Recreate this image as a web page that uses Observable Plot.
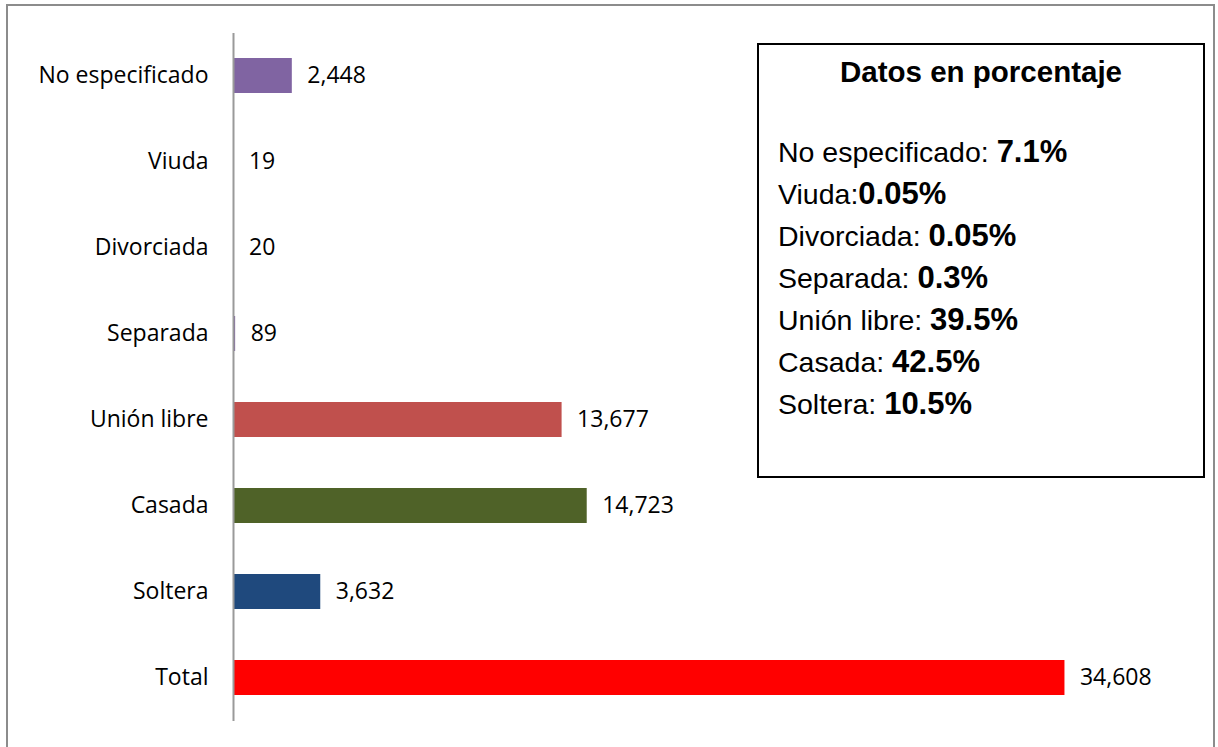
<!DOCTYPE html>
<html>
<head>
<meta charset="utf-8">
<script src="https://cdn.jsdelivr.net/npm/d3@7"></script>
<script src="https://cdn.jsdelivr.net/npm/@observablehq/plot@0.6"></script>
<style>
  html, body { margin: 0; padding: 0; background: #fff; }
  #wrap { position: relative; width: 1218px; height: 747px; overflow: hidden; }
  #frame { position: absolute; left: 6px; top: 4px; width: 1209px; height: 760px;
           border: 2px solid #8c8c8c; box-sizing: border-box; }
  #legend { position: absolute; left: 757px; top: 43px; width: 448px; height: 435px;
            border: 2px solid #000; box-sizing: border-box; background: #fff; }
  #legend svg { position: absolute; left: 0; top: 0; }
  #chart { position: absolute; left: 0; top: 0; }
</style>
</head>
<body>
<div id="wrap">
  <div id="frame"></div>
  <div id="chart"></div>
  <div id="legend"></div>
</div>
<script>
const categories = ["No especificado", "Viuda", "Divorciada", "Separada", "Unión libre", "Casada", "Soltera", "Total"];
const values = [2448, 19, 20, 89, 13677, 14723, 3632, 34608];
const barColors = ["#8064A2", "#8064A2", "#8064A2", "#8064A2", "#C0504D", "#4F6228", "#1F497D", "#FF0000"];
const legendTitle = "Datos en porcentaje";
const legendLabels = ["No especificado: ", "Viuda:", "Divorciada: ", "Separada: ", "Unión libre: ", "Casada: ", "Soltera: "];
const legendValues = ["7.1%", "0.05%", "0.05%", "0.3%", "39.5%", "42.5%", "10.5%"];

const data = categories.map((c, i) => ({category: c, value: values[i], color: barColors[i]}));
const fmt = d3.format(",");

const chart = Plot.plot({
  width: 1218,
  height: 747,
  marginLeft: 233,
  marginRight: 24,
  marginTop: 33,
  marginBottom: 26,
  style: {fontFamily: "'Open Sans', 'Noto Sans', sans-serif", fontSize: "23px", color: "#000", background: "transparent"},
  x: {domain: [0, 40000], axis: null},
  y: {domain: categories, paddingInner: 0.59, paddingOuter: 0.295, label: null, axis: null},
  marks: [
    Plot.barX(data, {x: "value", y: "category", fill: "color"}),
    Plot.ruleX([0], {stroke: "#9a9a9a", strokeWidth: 2}),
    Plot.text(data, {x: "value", y: "category", text: d => fmt(d.value), textAnchor: "start", dx: 15, fill: "#000", fontSize: 23}),
    Plot.axisY({tickSize: 0, tickPadding: 25, fontSize: 23, label: null, fill: "#000"})
  ]
});
document.getElementById("chart").appendChild(chart);

// Legend box (text block)
const legend = d3.select("#legend");
const svg = legend.append("svg").attr("width", 444).attr("height", 431)
  .style("font-family", "'Liberation Sans', Arial, sans-serif").attr("fill", "#000");
// box inner origin: (759, 45)
svg.append("text").attr("x", 222).attr("y", 82 - 45)
  .attr("text-anchor", "middle").attr("font-weight", "bold").attr("font-size", 29.5)
  .text(legendTitle);
legendLabels.forEach((lab, i) => {
  const t = svg.append("text").attr("x", 778 - 759).attr("y", 162 - 45 + i * 42).attr("font-size", 28.5);
  t.append("tspan").text(lab);
  t.append("tspan").attr("font-weight", "bold").attr("font-size", 31).text(legendValues[i]);
});
</script>
</body>
</html>
